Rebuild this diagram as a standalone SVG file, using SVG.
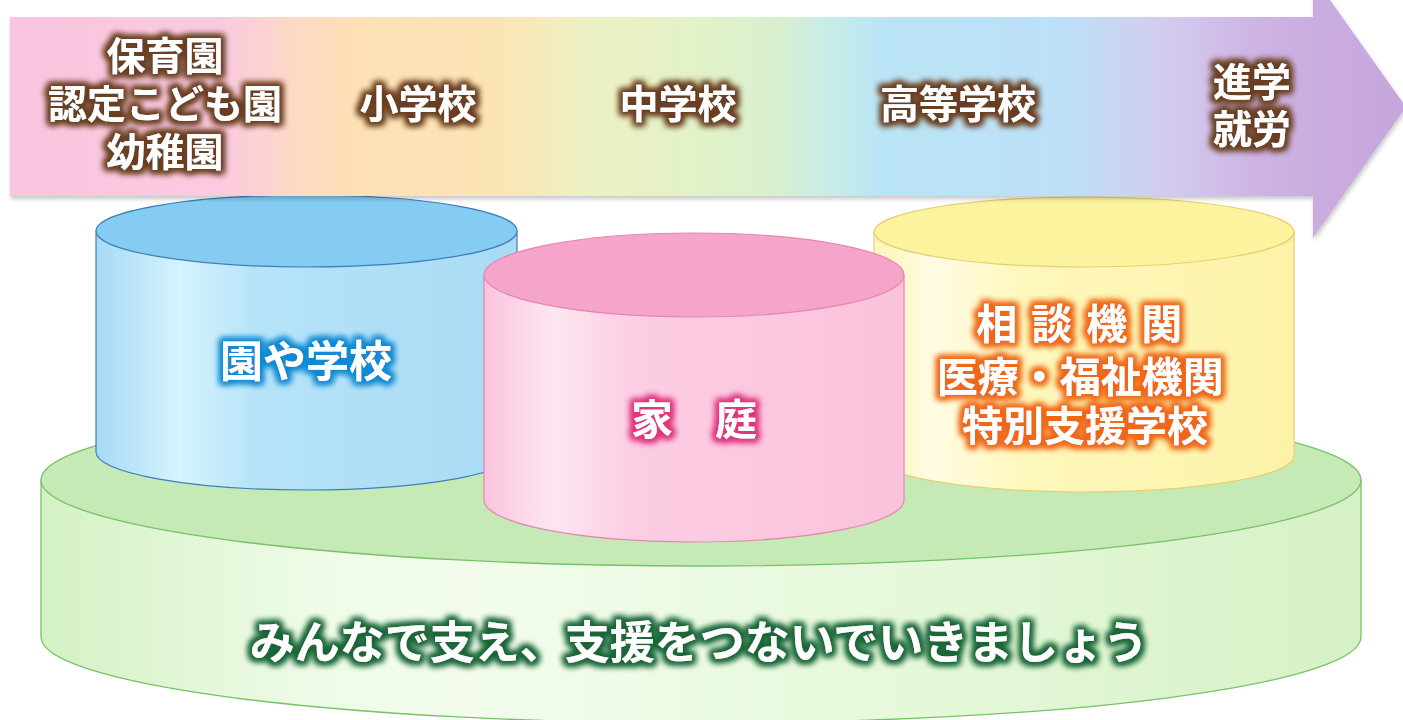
<svg xmlns="http://www.w3.org/2000/svg" width="1403" height="720" viewBox="0 0 1403 720">
<defs>
<style>
.t{font-family:"Noto Sans CJK JP","Noto Sans CJK SC",sans-serif;font-weight:700;fill:#ffffff;text-anchor:middle}
.ta{font-size:39px}
</style>
<linearGradient id="arrowG" x1="0" y1="0" x2="1403" y2="0" gradientUnits="userSpaceOnUse">
<stop offset="0" stop-color="#f8c4de"/>
<stop offset="0.16" stop-color="#fbcae0"/>
<stop offset="0.205" stop-color="#fdd8c8"/>
<stop offset="0.25" stop-color="#fde0b6"/>
<stop offset="0.36" stop-color="#fbe5b4"/>
<stop offset="0.41" stop-color="#eef0c2"/>
<stop offset="0.50" stop-color="#e2f2c8"/>
<stop offset="0.555" stop-color="#d8f0d0"/>
<stop offset="0.59" stop-color="#c8ece6"/>
<stop offset="0.63" stop-color="#b9e4f6"/>
<stop offset="0.76" stop-color="#bde0f6"/>
<stop offset="0.83" stop-color="#d3ccee"/>
<stop offset="0.90" stop-color="#cdb2e2"/>
<stop offset="1" stop-color="#c6a6dc"/>
</linearGradient>
<linearGradient id="blueSide" x1="0" y1="0" x2="1" y2="0">
<stop offset="0" stop-color="#a6daf5"/>
<stop offset="0.2" stop-color="#d6f3fe"/>
<stop offset="0.38" stop-color="#b6e3f8"/>
<stop offset="1" stop-color="#a8dbf4"/>
</linearGradient>
<linearGradient id="pinkSide" x1="0" y1="0" x2="1" y2="0">
<stop offset="0" stop-color="#fbc4dc"/>
<stop offset="0.16" stop-color="#fde6f1"/>
<stop offset="0.36" stop-color="#fccde3"/>
<stop offset="1" stop-color="#fac2db"/>
</linearGradient>
<linearGradient id="yellowSide" x1="0" y1="0" x2="1" y2="0">
<stop offset="0" stop-color="#fdf5b8"/>
<stop offset="0.14" stop-color="#fffce2"/>
<stop offset="0.36" stop-color="#fef7bc"/>
<stop offset="1" stop-color="#fcf3a8"/>
</linearGradient>
<linearGradient id="greenSide" x1="0" y1="0" x2="1" y2="0">
<stop offset="0" stop-color="#d4f1c4"/>
<stop offset="0.2" stop-color="#eefbe6"/>
<stop offset="0.32" stop-color="#f3fcec"/>
<stop offset="0.7" stop-color="#e4f8d8"/>
<stop offset="1" stop-color="#d6f1c6"/>
</linearGradient>
<filter id="shadow" x="-5%" y="-10%" width="110%" height="130%">
<feGaussianBlur in="SourceAlpha" stdDeviation="2"/>
<feOffset dx="1" dy="3" result="o"/>
<feFlood flood-color="#000" flood-opacity="0.22"/>
<feComposite in2="o" operator="in"/>
<feMerge><feMergeNode/><feMergeNode in="SourceGraphic"/></feMerge>
</filter>
<filter id="gBrown" x="-20%" y="-40%" width="140%" height="180%">
<feMorphology in="SourceAlpha" operator="dilate" radius="2.5" result="d"/>
<feGaussianBlur in="d" stdDeviation="3" result="b"/>
<feFlood flood-color="#6a3f22"/>
<feComposite in2="b" operator="in" result="g"/>
<feMerge><feMergeNode in="g"/><feMergeNode in="g"/><feMergeNode in="SourceGraphic"/></feMerge>
</filter>
<filter id="gBlue" x="-20%" y="-40%" width="140%" height="180%">
<feMorphology in="SourceAlpha" operator="dilate" radius="2.5" result="d"/>
<feGaussianBlur in="d" stdDeviation="3" result="b"/>
<feFlood flood-color="#128ad4"/>
<feComposite in2="b" operator="in" result="g"/>
<feMerge><feMergeNode in="g"/><feMergeNode in="g"/><feMergeNode in="SourceGraphic"/></feMerge>
</filter>
<filter id="gPink" x="-20%" y="-40%" width="140%" height="180%">
<feMorphology in="SourceAlpha" operator="dilate" radius="2.5" result="d"/>
<feGaussianBlur in="d" stdDeviation="3" result="b"/>
<feFlood flood-color="#e0357f"/>
<feComposite in2="b" operator="in" result="g"/>
<feMerge><feMergeNode in="g"/><feMergeNode in="g"/><feMergeNode in="SourceGraphic"/></feMerge>
</filter>
<filter id="gOrange" x="-20%" y="-40%" width="140%" height="180%">
<feMorphology in="SourceAlpha" operator="dilate" radius="2.5" result="d"/>
<feGaussianBlur in="d" stdDeviation="3" result="b"/>
<feFlood flood-color="#ef6818"/>
<feComposite in2="b" operator="in" result="g"/>
<feMerge><feMergeNode in="g"/><feMergeNode in="g"/><feMergeNode in="SourceGraphic"/></feMerge>
</filter>
<filter id="gGreen" x="-20%" y="-40%" width="140%" height="180%">
<feMorphology in="SourceAlpha" operator="dilate" radius="2.5" result="d"/>
<feGaussianBlur in="d" stdDeviation="3" result="b"/>
<feFlood flood-color="#1a6638"/>
<feComposite in2="b" operator="in" result="g"/>
<feMerge><feMergeNode in="g"/><feMergeNode in="g"/><feMergeNode in="SourceGraphic"/></feMerge>
</filter>
</defs>
<rect width="1403" height="720" fill="#ffffff"/>

<g id="base">
<path d="M41,480 L41,637 A660,86 0 0 0 1361,637 L1361,480 Z" fill="url(#greenSide)" stroke="#76c266" stroke-width="1.3"/>
<ellipse cx="701" cy="480" rx="660" ry="86" fill="#c5eab5" stroke="#76c266" stroke-width="1.3"/>
<text class="t" x="699" y="659" font-size="45" filter="url(#gGreen)">みんなで支え、支援をつないでいきましょう</text>
</g>

<g id="school">
<path d="M96,231 L96,452 A210.5,38 0 0 0 517,452 L517,231 Z" fill="url(#blueSide)" stroke="#3f7fb8" stroke-width="1.2"/>
<ellipse cx="306.5" cy="231" rx="210.5" ry="36" fill="#84ccf1" stroke="#3f7fb8" stroke-width="1.2"/>
<text class="t" x="306" y="377" font-size="43" filter="url(#gBlue)">園や学校</text>
</g>

<g id="agencies">
<path d="M874,232 L874,456 A210,36 0 0 0 1294,456 L1294,232 Z" fill="url(#yellowSide)" stroke="#e6cf72" stroke-width="1.2"/>
<ellipse cx="1084" cy="232" rx="210" ry="35" fill="#fbf39e" stroke="#e6cf72" stroke-width="1.2"/>
<text class="t" font-size="41" filter="url(#gOrange)">
<tspan x="1091" y="339" letter-spacing="14">相談機関</tspan>
<tspan x="1085" y="392">医療・福祉機関</tspan>
<tspan x="1085" y="441">特別支援学校</tspan>
</text>
</g>

<g id="home">
<path d="M484,275 L484,500 A210,42 0 0 0 904,500 L904,275 Z" fill="url(#pinkSide)" stroke="#e486b0" stroke-width="1.2"/>
<ellipse cx="694" cy="275" rx="210" ry="42" fill="#f5a5c9" stroke="#e486b0" stroke-width="1.2"/>
<text class="t" x="694" y="435" font-size="42" filter="url(#gPink)">家　庭</text>
</g>

<g id="timeline">
<path d="M10,17 L1313,17 L1313,-24 L1406,107 L1313,238 L1313,196 L10,196 Z" fill="url(#arrowG)" filter="url(#shadow)"/>
<g filter="url(#gBrown)">
<text class="t ta" x="165" y="70">保育園</text>
<text class="t ta" x="165" y="118">認定こども園</text>
<text class="t ta" x="165" y="166">幼稚園</text>
<text class="t ta" x="418" y="118">小学校</text>
<text class="t ta" x="678" y="118">中学校</text>
<text class="t ta" x="958" y="118">高等学校</text>
<text class="t ta" x="1252" y="96">進学</text>
<text class="t ta" x="1252" y="143">就労</text>
</g>
</g>
</svg>
